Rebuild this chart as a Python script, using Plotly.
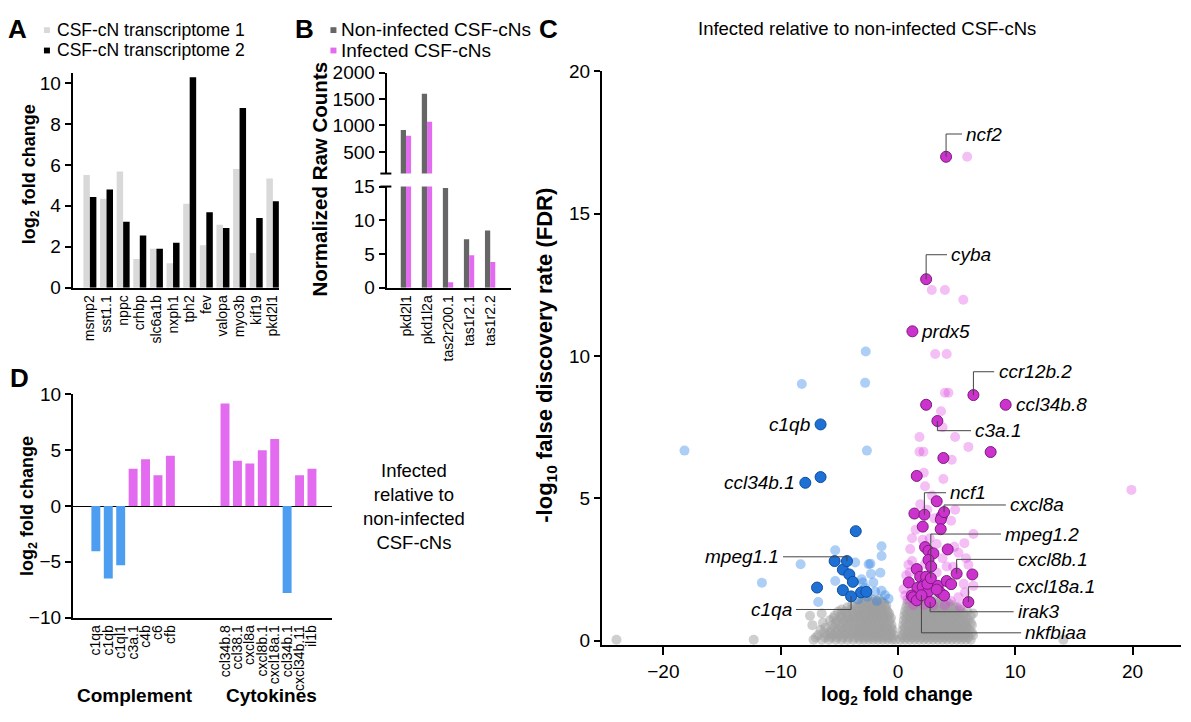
import plotly.graph_objects as go

# page is 1191x722; the browser's default 8px body margin surrounds the figure
OFF = 8
W, H = 1191 - 2 * OFF, 722 - 2 * OFF
FONT = "Liberation Sans, Arial, sans-serif"


def px(x):
    return min(max((x - OFF) / W, 0.0), 1.0)


def py(y):
    return min(max(1 - (y - OFF) / H, 0.0), 1.0)


# ---------------- Panel A data ----------------
a_genes = ["msmp2", "sst1.1", "nppc", "crhbp", "slc6a1b", "nxph1", "tph2", "fev",
           "valopa", "myo3b", "kif19", "pkd2l1"]
a_transcriptome1 = [5.5, 4.35, 5.68, 1.4, 1.9, 1.2, 4.1, 2.08, 3.08, 5.8, 1.7, 5.33]
a_transcriptome2 = [4.43, 4.8, 3.22, 2.55, 1.9, 2.2, 10.28, 3.68, 2.92, 8.78, 3.4, 4.22]

# ---------------- Panel B data ----------------
b_genes = ["pkd2l1", "pkd1l2a", "tas2r200.1", "tas1r2.1", "tas1r2.2"]
b_noninfected = [915, 1600, 14.8, 7.2, 8.5]
b_infected = [805, 1070, 0.8, 4.8, 3.8]

# ---------------- Panel D data ----------------
d_complement = ["c1qa", "c1qb", "c1ql1", "c3a.1", "c4b", "c6", "cfb"]
d_complement_fc = [-4.05, -6.5, -5.3, 3.35, 4.2, 2.75, 4.5]
d_cytokines = ["ccl34b.8", "ccl38.1", "cxcl8a", "cxcl8b.1", "cxcl18a.1", "ccl34b.1",
               "cxcl34b.11", "il1b"]
d_cytokines_fc = [9.2, 4.05, 3.82, 5.0, 6.0, -7.8, 2.75, 3.35]

# ---------------- Panel C data (volcano) ----------------
# non-significant genes, listed as rows: (-log10 FDR, [log2 FC ...])
c_gray_rows = [
    (0.04, [-24.0, -12.3, -7.2, -6.5, -5.9, -5.3, -4.8, -4.3, -3.8, -3.3, -2.9, -2.5, -2.1,
            -1.7, -1.3, -0.9, -0.5, -0.2, 0.2, 0.6, 1.0, 1.4, 1.8, 2.2, 2.6, 3.0, 3.4, 3.8,
            4.2, 4.6, 5.0, 5.4, 5.8, 6.2, 14.1]),
    (0.12, [-7.0, -6.2, -5.7, -5.2, -4.7, -4.2, -3.7, -3.3, -2.9, -2.5, -2.1, -1.7, -1.3,
            -0.9, -0.5, 0.4, 0.8, 1.2, 1.6, 2.0, 2.4, 2.8, 3.2, 3.6, 4.0, 4.4, 4.8, 5.2,
            5.6, 6.0]),
    (0.2, [-6.8, -6.0, -5.5, -5.0, -4.5, -4.0, -3.5, -3.1, -2.7, -2.3, -1.9, -1.5, -1.1,
           -0.7, -0.35, 0.35, 0.8, 1.2, 1.6, 2.0, 2.4, 2.8, 3.2, 3.6, 4.0, 4.4, 4.8, 5.2,
           5.6, 6.0, 6.4]),
    (0.29, [-6.3, -5.8, -5.3, -4.8, -4.3, -3.8, -3.4, -3.0, -2.6, -2.2, -1.8, -1.4, -1.0,
            -0.6, 0.55, 1.0, 1.4, 1.8, 2.2, 2.6, 3.0, 3.4, 3.8, 4.2, 4.6, 5.0, 5.4, 5.8,
            6.3]),
    (0.38, [-6.6, -5.7, -5.1, -4.6, -4.1, -3.6, -3.2, -2.8, -2.4, -2.0, -1.6, -1.2, -0.8,
            -0.45, 0.4, 0.9, 1.3, 1.7, 2.1, 2.5, 2.9, 3.3, 3.7, 4.1, 4.5, 4.9, 5.3, 5.7,
            6.1]),
    (0.46, [-6.2, -5.4, -4.8, -4.3, -3.8, -3.4, -3.0, -2.6, -2.2, -1.8, -1.4, -1.0, -0.6,
            0.6, 1.1, 1.5, 1.9, 2.3, 2.7, 3.1, 3.5, 3.9, 4.3, 4.7, 5.1, 5.5, 5.9]),
    (0.55, [-7.3, -5.6, -5.0, -4.4, -3.9, -3.4, -3.0, -2.6, -2.2, -1.8, -1.4, -1.0, -0.55,
            0.45, 0.9, 1.4, 1.8, 2.2, 2.6, 3.0, 3.4, 3.8, 4.2, 4.6, 5.0, 5.4, 5.8, 6.3]),
    (0.63, [-6.4, -5.3, -4.7, -4.2, -3.7, -3.2, -2.8, -2.4, -2.0, -1.6, -1.2, -0.8, 0.7,
            1.2, 1.6, 2.0, 2.4, 2.8, 3.2, 3.6, 4.0, 4.4, 4.8, 5.2, 5.7, 6.2]),
    (0.72, [-5.8, -5.2, -4.6, -4.1, -3.7, -3.2, -2.8, -2.4, -2.0, -1.6, -1.2, -0.7, 0.5,
            1.0, 1.4, 1.8, 2.2, 2.6, 3.0, 3.4, 3.8, 4.2, 4.6, 5.0, 5.5, 6.0]),
    (0.8, [-5.5, -4.9, -4.4, -3.9, -3.4, -3.0, -2.6, -2.2, -1.8, -1.4, -1.0, -0.6, 0.75,
           1.2, 1.7, 2.1, 2.5, 2.9, 3.3, 3.7, 4.1, 4.5, 4.9, 5.3, 5.8]),
    (0.88, [-7.5, -5.4, -4.8, -4.2, -3.7, -3.3, -2.9, -2.5, -2.1, -1.7, -1.3, -0.8, 0.55,
            1.0, 1.5, 1.9, 2.3, 2.7, 3.1, 3.5, 3.9, 4.3, 4.7, 5.1, 5.6, 6.2]),
    (0.96, [-6.5, -4.8, -4.3, -3.7, -3.2, -2.8, -2.4, -2.0, -1.6, -1.2, -0.75, 0.8, 1.3,
            1.7, 2.1, 2.5, 2.9, 3.3, 3.7, 4.1, 4.5, 5.0, 5.6, 6.4]),
    (1.03, [-5.1, -4.5, -3.9, -3.4, -3.0, -2.6, -2.2, -1.8, -1.4, -0.9, 0.6, 1.1, 1.5, 1.9,
            2.3, 2.7, 3.1, 3.5, 3.9, 4.3, 4.8, 5.3, 5.9]),
    (1.1, [-4.8, -4.0, -3.5, -3.0, -2.6, -2.2, -1.8, -1.4, -1.0, 0.9, 1.4, 1.8, 2.2, 2.6,
           3.0, 3.4, 3.8, 4.2, 4.7, 5.3]),
    (1.18, [-4.3, -3.6, -3.1, -2.7, -2.3, -1.9, -1.5, -1.1, 0.7, 1.2, 1.6, 2.0, 2.4, 2.8,
            3.2, 3.6, 4.0, 4.5, 5.0]),
    (1.25, [-3.9, -3.2, -2.7, -2.2, -1.8, -1.4, -1.0, 1.0, 1.5, 2.0, 2.5, 3.0, 3.5, 4.0,
            4.7]),
    (1.32, [-3.4, -2.9, -2.4, -2.0, -1.6, -1.2, 0.8, 1.3, 1.8, 2.3, 2.8, 3.3, 3.8, 4.3]),
    (1.38, [-3.1, -2.6, -2.2, -1.8, -1.4, 1.0, 1.6, 2.1, 2.6, 3.0, 3.6, 4.1]),
    (1.45, [-2.9, -2.2, -1.6, 1.2, 1.9, 2.6, 3.3]),
]

# significant, down-regulated (light blue)
c_down_x = [-8.2, -2.8, -2.75, -18.2, -2.65, -5.35, -8.3, -11.6, -6.8, -3.65, -2.5, -5.35,
            -3.0, -1.4, -1.4, -2.35, -1.5, -3.1, -2.1, -1.4, -1.1, -0.8, -1.95, -2.8, -1.8,
            -2.6, -3.4, -2.3]
c_down_y = [9.02, 9.06, 10.16, 6.68, 6.68, 3.18, 2.69, 2.04, 1.36, 2.75, 2.69, 2.1,
            2.05, 3.32, 2.98, 2.71, 2.39, 2.16, 2.05, 1.76, 1.6, 1.48, 1.73, 1.85, 1.4,
            1.55, 1.45, 2.35]

# significant, up-regulated (light pink)
c_up_x = [5.9, 2.88, 4.0, 5.57, 3.17, 4.15, 4.0, 4.3, 3.67, 3.8, 1.83, 4.87, 6.0, 1.83,
          2.17, 4.58, 2.31, 3.87, 19.9, 4.87, 4.53, 5.66, 6.43, 1.04, 5.15, 0.89, 4.15,
          6.0, 6.43, 0.61, 5.15, 5.72, 1.17, 0.47, 4.0, 0.7, 0.8, 1.3, 2.2, 3.0, 4.5,
          5.3, 5.6, 5.8, 1.2, 1.5, 2.7, 3.3, 4.8, 1.9, 2.9, 3.3, 2.3, 1.2, 1.0, 3.8,
          4.7, 2.1, 3.1, 2.5, 2.2]
c_up_y = [17.0, 12.32, 12.32, 11.98, 10.07, 10.07, 8.71, 8.71, 8.06, 7.5, 7.16, 7.16,
          6.81, 6.64, 6.64, 6.36, 5.43, 5.68, 5.3, 4.6, 4.22, 3.43, 3.75, 3.22, 3.09,
          2.67, 2.61, 2.67, 1.93, 1.59, 1.53, 1.7, 1.84, 1.81, 1.25, 2.3, 1.45, 1.25,
          1.25, 1.25, 1.4, 1.2, 2.0, 2.9, 3.6, 3.9, 3.6, 3.4, 3.3, 4.8, 5.1, 2.4, 2.7,
          2.8, 2.4, 2.9, 2.6, 3.55, 4.3, 4.6, 5.9]

# highlighted, unlabelled down-regulated (dark blue)
c_down_hl_x = [-6.6, -3.6, -5.4, -4.7, -4.15, -3.85, -6.9, -4.7, -3.15, -2.7]
c_down_hl_y = [5.75, 3.85, 2.8, 2.5, 2.33, 2.07, 1.87, 1.78, 1.7, 1.72]

# highlighted, unlabelled up-regulated (dark magenta)
c_up_hl_x = [2.4, 7.9, 3.87, 1.6, 3.3, 1.4, 3.73, 3.65, 2.11, 3.64, 2.31, 2.6, 3.02,
             4.24, 2.6, 2.83, 1.6, 6.34, 1.89, 0.92, 2.31, 1.66, 3.39, 4.15, 4.53, 3.59,
             3.93, 1.17, 1.46, 2.4, 2.1, 2.6, 1.3, 1.6, 3.3, 2.5]
c_up_hl_y = [8.29, 6.63, 6.42, 5.79, 4.9, 4.47, 4.37, 4.26, 4.01, 3.92, 3.29, 3.16, 3.07,
             3.21, 2.84, 2.61, 2.52, 2.33, 2.25, 2.05, 2.02, 1.86, 1.93, 2.1, 1.99, 1.7,
             1.59, 1.59, 1.48, 2.25, 1.9, 1.74, 1.53, 1.42, 1.8, 2.0]

# labelled genes
c_lab_genes = ["ncf2", "cyba", "prdx5", "ccr12b.2", "ccl34b.8", "c3a.1", "c1qb", "ccl34b.1",
               "ncf1", "cxcl8a", "mpeg1.2", "cxcl8b.1", "cxcl18a.1", "irak3", "nkfbiaa",
               "mpeg1.1", "c1qa"]
c_lab_x = [4.1, 2.4, 1.23, 6.43, 9.18, 3.36, -6.6, -7.9, 2.25, 3.93, 2.8, 5.0, 6.0, 2.74,
           2.0, -4.35, -4.0]
c_lab_y = [17.0, 12.7, 10.87, 8.63, 8.29, 7.72, 7.6, 5.55, 4.43, 4.52, 2.2, 2.36, 1.36,
           1.36, 1.6, 2.8, 1.56]

# label placement (layout): text x, text y, side, leader line?
c_lab_place = [
    (5.66, 17.8, "left", True), (4.38, 13.56, "left", True), (1.8, 10.87, "left", False),
    (8.4, 9.45, "left", True), (9.9, 8.29, "left", False), (6.43, 7.38, "left", True),
    (-7.35, 7.6, "right", False), (-8.6, 5.56, "right", False), (4.3, 5.2, "left", True),
    (9.4, 4.77, "left", True), (8.98, 3.75, "left", True), (10.1, 2.86, "left", True),
    (9.83, 1.9, "left", True), (10.06, 1.02, "left", True), (10.7, 0.28, "left", True),
    (-10.0, 2.95, "right", True), (-8.9, 1.1, "right", True),
]

# ---------------- colours ----------------
GRAY_LIGHT = "#d9d9d9"
GRAY_DARK = "#666666"
MAGENTA = "#e36bf0"
BLUE_BAR = "#4d9ef0"
C_GRAY = "rgba(160,160,160,0.5)"
C_LBLUE = "rgba(40,125,230,0.38)"
C_LPINK = "rgba(220,60,225,0.33)"
C_DBLUE = "#1f70d4"
C_DMAG = "#cc33cc"

fig = go.Figure()

# ---- A ----
fig.add_trace(go.Bar(x=a_genes, y=a_transcriptome1, width=0.39, offset=-0.39,
                     marker=dict(color=GRAY_LIGHT, line=dict(width=0)), xaxis="x", yaxis="y"))
fig.add_trace(go.Bar(x=a_genes, y=a_transcriptome2, width=0.39, offset=0.0,
                     marker=dict(color="#000000", line=dict(width=0)), xaxis="x", yaxis="y"))

# ---- B (broken axis: lower y2, upper y3) ----
for xa, ya in (("x2", "y2"), ("x3", "y3")):
    fig.add_trace(go.Bar(x=b_genes, y=b_noninfected, width=0.25, offset=-0.25,
                         marker=dict(color=GRAY_DARK, line=dict(width=0)), xaxis=xa, yaxis=ya))
    fig.add_trace(go.Bar(x=b_genes, y=b_infected, width=0.24, offset=0.0,
                         marker=dict(color=MAGENTA, line=dict(width=0)), xaxis=xa, yaxis=ya))

# ---- D ----
d_names = d_complement + d_cytokines
d_values = d_complement_fc + d_cytokines_fc
d_pos = list(range(len(d_complement))) + [10.4 + i for i in range(len(d_cytokines))]
fig.add_trace(go.Bar(x=d_pos, y=d_values, width=0.72,
                     marker=dict(color=[BLUE_BAR if v < 0 else MAGENTA for v in d_values],
                                 line=dict(width=0)),
                     xaxis="x4", yaxis="y4"))

# ---- C ----
gx, gy = [], []
for yv, xs in c_gray_rows:
    for xv in xs:
        gx.append(xv)
        gy.append(yv)
fig.add_trace(go.Scatter(x=gx, y=gy, mode="markers", marker=dict(size=10, color=C_GRAY),
                         xaxis="x5", yaxis="y5", cliponaxis=False))
fig.add_trace(go.Scatter(x=c_down_x, y=c_down_y, mode="markers",
                         marker=dict(size=10, color=C_LBLUE), xaxis="x5", yaxis="y5"))
fig.add_trace(go.Scatter(x=c_up_x, y=c_up_y, mode="markers",
                         marker=dict(size=10, color=C_LPINK), xaxis="x5", yaxis="y5"))
fig.add_trace(go.Scatter(x=c_down_hl_x, y=c_down_hl_y, mode="markers",
                         marker=dict(size=11, color=C_DBLUE, line=dict(width=1, color="#0d4f9e")),
                         xaxis="x5", yaxis="y5"))
fig.add_trace(go.Scatter(x=c_up_hl_x, y=c_up_hl_y, mode="markers",
                         marker=dict(size=11, color=C_DMAG, line=dict(width=1, color="#7d1a80")),
                         xaxis="x5", yaxis="y5"))
fig.add_trace(go.Scatter(x=c_lab_x, y=c_lab_y, mode="markers",
                         marker=dict(size=11, color=[C_DBLUE if v < 0 else C_DMAG for v in c_lab_x],
                                     line=dict(width=1, color=["#0d4f9e" if v < 0 else "#7d1a80"
                                                               for v in c_lab_x])),
                         xaxis="x5", yaxis="y5"))

# ---------------- axes ----------------
base = dict(showline=True, linecolor="black", linewidth=2, showgrid=False, zeroline=False,
            ticks="outside", tickcolor="black", tickwidth=2, ticklen=6,
            tickfont=dict(size=19, color="black", family=FONT), fixedrange=True)


def cat_x(size, vals, texts=None):
    return dict(base, ticks="", tickangle=-90, tickmode="array", tickvals=vals,
                ticktext=texts if texts is not None else vals,
                tickfont=dict(size=size, color="black", family=FONT))


# C x axis: 0 at ref px 899.5, 11.75 px per unit; domain from 603 to page edge
C_X0, C_XS = 899.5, 11.75
c_x_left_px, c_x_right_px = 603, OFF + W
c_x_range = [(c_x_left_px - C_X0) / C_XS, (c_x_right_px - C_X0) / C_XS]

layout_axes = dict(
    xaxis=dict(cat_x(14, a_genes), domain=[px(72.7), px(279.3)], range=[-1.04, 11.36],
               anchor="y"),
    yaxis=dict(base, domain=[py(286), py(65)], range=[0, 10.47], tickvals=[0, 2, 4, 6, 8, 10],
               anchor="x"),
    xaxis2=dict(cat_x(14, b_genes), domain=[px(387.3), px(511.7)], range=[-0.92, 4.98],
                anchor="y2"),
    yaxis2=dict(base, domain=[py(286), py(181.7)], range=[0, 15], tickvals=[0, 5, 10, 15],
                anchor="x2"),
    xaxis3=dict(domain=[px(387.3), px(511.7)], range=[-0.92, 4.98], anchor="y3", visible=False),
    yaxis3=dict(base, domain=[py(168.3), py(64.3)], range=[90, 2000],
                tickvals=[500, 1000, 1500, 2000], anchor="x3"),
    xaxis4=dict(cat_x(14, d_pos, d_names), domain=[px(73), px(333)], range=[-1.85, 19.05],
                anchor="y4"),
    yaxis4=dict(base, domain=[py(626), py(396)], range=[-10, 10],
                tickvals=[-10, -5, 0, 5, 10], zeroline=True, zerolinecolor="black",
                zerolinewidth=1, anchor="x4"),
    xaxis5=dict(base, domain=[px(c_x_left_px), px(c_x_right_px)], range=c_x_range,
                tickvals=[-20, -10, 0, 10, 20], ticklen=8, anchor="y5"),
    yaxis5=dict(base, domain=[py(654), py(63)], range=[-0.14, 20],
                tickvals=[0, 5, 10, 15, 20], anchor="x5"),
)

# ---------------- annotations ----------------
ann = []


def paper_text(x, y, text, size=18, bold=False, angle=0, xanchor="center", align="center"):
    if bold:
        text = "<b>" + text + "</b>"
    ann.append(dict(x=px(x), y=py(y), xref="paper", yref="paper", text=text, showarrow=False,
                    textangle=angle, xanchor=xanchor, yanchor="middle", align=align,
                    font=dict(size=size, color="black", family=FONT)))


# panel letters
paper_text(18, 19, "A", 26, True)
paper_text(305, 19, "B", 26, True)
paper_text(549, 19, "C", 26, True)
paper_text(20, 379, "D", 26, True)

# legends (text) for A and B
paper_text(55, 20, "CSF-cN transcriptome 1", 17.5, xanchor="left")
paper_text(55, 41, "CSF-cN transcriptome 2", 17.5, xanchor="left")
paper_text(340, 20, "Non-infected CSF-cNs", 19, xanchor="left")
paper_text(340, 41, "Infected CSF-cNs", 19, xanchor="left")

# axis titles
paper_text(30, 169, "log<sub>2</sub> fold change", 18, True, -90)
paper_text(320, 174, "Normalized Raw Counts", 20.5, True, -90)
paper_text(28, 511, "log<sub>2</sub> fold change", 18, True, -90)
paper_text(547, 356, "-log<sub>10</sub> false discovery rate (FDR)", 22, True, -90)
paper_text(899, 706, "log<sub>2</sub> fold change", 19.5, True)

# other texts
paper_text(868, 19, "Infected relative to non-infected CSF-cNs", 18.5)
paper_text(415, 511, "Infected<br>relative to<br>non-infected<br>CSF-cNs", 18.5)
paper_text(135, 706, "Complement", 19, True)
paper_text(272, 706, "Cytokines", 19, True)

shapes = []
# legend squares
for (sx, sy, col) in ((47, 20.5, GRAY_LIGHT), (47, 41.5, "#000000"),
                      (334, 20.5, GRAY_DARK), (334, 41.5, MAGENTA)):
    shapes.append(dict(type="rect", xref="paper", yref="paper", x0=px(sx - 3), x1=px(sx + 3),
                       y0=py(sy + 3), y1=py(sy - 3), fillcolor=col, line=dict(width=0)))
# axis break caps in B
for yb in (168.3, 181.7):
    shapes.append(dict(type="line", xref="paper", yref="paper", x0=px(381), x1=px(392),
                       y0=py(yb), y1=py(yb), line=dict(color="black", width=2)))

# volcano gene labels with elbow leader lines
for g, gxv, gyv, (tx, ty, side, lead) in zip(c_lab_genes, c_lab_x, c_lab_y, c_lab_place):
    ann.append(dict(x=tx, y=ty, xref="x5", yref="y5", text="<i>" + g + "</i>", showarrow=False,
                    xanchor=side, yanchor="middle",
                    font=dict(size=19, color="black", family=FONT)))
    if lead:
        ex = tx - 0.2 if side == "left" else tx + 0.2
        shapes.append(dict(type="path", xref="x5", yref="y5",
                           path=f"M {gxv},{gyv} L {gxv},{ty} L {ex},{ty}",
                           line=dict(color="#444444", width=1)))

fig.update_layout(
    width=W, height=H, autosize=False,
    margin=dict(l=0, r=0, t=0, b=0),
    paper_bgcolor="white", plot_bgcolor="white",
    showlegend=False,
    font=dict(family=FONT, color="black"),
    annotations=ann, shapes=shapes,
    **layout_axes,
)

fig.write_html("out.html", config={"displayModeBar": False})
